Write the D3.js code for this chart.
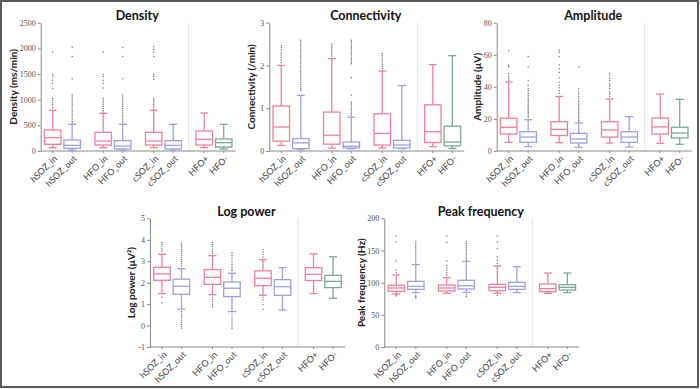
<!DOCTYPE html>
<html>
<head>
<meta charset="utf-8">
<script src="https://cdn.jsdelivr.net/npm/d3@7"></script>
<style>
  body { margin: 0; background: #fff; }
  svg { display: block; }
  .tick text { font-family: "Liberation Serif", serif; font-size: 8px; fill: #555; }
  .axis path, .axis line { stroke: #8a8a8a; }
  .cat { font-family: Lato, "Open Sans", sans-serif; font-size: 9px; fill: #444; }
  .title { font-family: Lato, "Open Sans", sans-serif; font-size: 12.5px; font-weight: bold; fill: #111; }
  .ylab { font-family: Lato, "Open Sans", sans-serif; font-size: 10px; font-weight: bold; fill: #222; }
</style>
</head>
<body>
<div id="chart-area"></div>
<script>
// categories
const categories = ["hSOZ_in", "hSOZ_out", "HFO_in", "HFO_out", "cSOZ_in", "cSOZ_out", "HFO+", "HFO-"];
const catGroup = ["hSOZ", "hSOZ", "HFO", "HFO", "cSOZ", "cSOZ", "class", "class"];
const catSub = ["a", "b", "a", "b", "a", "b", "a", "b"];
const catColorKey = ["in", "out", "in", "out", "in", "out", "in", "neg"];
const groups = ["hSOZ", "HFO", "cSOZ", "class"];

// box stats: [low whisker, q1, median, q3, high whisker]
const densityBox = [[65, 130, 260, 409, 792], [20, 52, 110, 214, 519], [65, 117, 195, 364, 734], [20, 39, 97, 201, 519],
  [65, 117, 195, 364, 792], [20, 39, 110, 201, 519], [65, 117, 227, 390, 740], [39, 78, 162, 234, 519]];
const densityOut = [
  [1930, 1490, 1450, 1380, 1320, 1220, 1030, 990, 940, 900, 850],
  [2020, 1840, 1410, 1090, 1050, 1010, 970, 935, 895, 860, 815, 775, 735, 695, 655, 615, 575, 540],
  [1930, 1490, 1450, 1380, 1320, 1230, 1030, 990, 950, 910, 870, 830, 790, 760],
  [2020, 1840, 1410, 1090, 1050, 1010, 975, 940, 900, 865, 825, 785, 745, 705, 665, 625, 585, 545],
  [2030, 1980, 1930, 1840, 1490, 1450, 1400, 1020, 980, 940, 900, 860, 820],
  [], [], []];

const connBox = [[0.13, 0.23, 0.56, 1.05, 2.0], [0.04, 0.055, 0.19, 0.29, 1.30], [0.07, 0.16, 0.37, 0.91, 2.16], [0.055, 0.07, 0.11, 0.21, 0.79],
  [0.07, 0.14, 0.41, 0.87, 1.87], [0.055, 0.07, 0.14, 0.25, 1.53], [0.1, 0.2, 0.45, 1.08, 2.02], [0.06, 0.12, 0.21, 0.58, 2.23]];
const connOut = [
  [2.47, 2.42, 2.36, 2.3, 2.25, 2.19, 2.13, 2.07],
  [2.59, 2.55, 2.5, 2.46, 2.41, 2.36, 2.32, 2.27, 2.22, 2.18, 2.13, 2.08, 2.04, 1.99, 1.94, 1.89, 1.85, 1.8, 1.75, 1.7, 1.66, 1.61, 1.56, 1.51, 1.46, 1.42],
  [2.5, 2.45, 2.41, 2.36, 2.31, 2.27, 2.22],
  [2.59, 2.55, 2.5, 2.45, 2.41, 2.36, 2.31, 2.27, 2.22, 2.17, 2.13, 2.08, 2.04, 1.71, 1.31, 1.14, 1.1, 1.05, 1.0, 0.96, 0.91, 0.87, 0.83],
  [2.28, 2.23, 2.18, 2.13, 2.08, 2.03, 1.98, 1.93],
  [], [], []];

const ampBox = [[5.4, 10.6, 14.8, 20.4, 43], [2.7, 5.4, 8.7, 12, 19.5], [5.2, 9.6, 13.5, 18.3, 34], [2.3, 5, 7.5, 11, 17.5],
  [5, 8.7, 13.1, 18.3, 32.4], [2.5, 5.4, 8.7, 12, 21.4], [4.8, 10.6, 15, 20.6, 35.5], [4.2, 8.1, 11.2, 14.8, 32.2]];
const ampOut = [
  [62.5, 53.5, 52.5, 48, 46.5, 45, 44],
  [59, 52.4, 44, 41, 39, 37.5, 36, 34.5, 33, 32, 31, 30, 29, 28, 27, 26, 25, 24, 23, 22, 21],
  [63, 61.5, 59, 53.6, 51.5, 49, 45.7, 43, 41, 39.5, 37.5, 36],
  [52.4, 38.7, 37, 35.5, 34, 32.5, 31, 30, 29, 28, 27, 26, 25, 24, 23, 22, 21, 20, 19, 18.3],
  [48.5, 47, 45.5, 44, 42, 40.5, 39, 37, 35.5, 34],
  [], [], []];

const logBox = [[1.49, 2.11, 2.41, 2.72, 3.32], [0.76, 1.46, 1.83, 2.16, 2.65], [1.44, 1.92, 2.25, 2.61, 3.26], [0.65, 1.35, 1.74, 2.03, 2.44],
  [1.41, 1.86, 2.2, 2.55, 3.07], [0.73, 1.41, 1.81, 2.14, 2.7], [1.49, 2.1, 2.39, 2.7, 3.34], [1.27, 1.77, 2.06, 2.34, 3.21]];
const logOut = [
  [3.88, 3.79, 3.68, 3.57, 3.46, 1.32, 1.05],
  [3.85, 3.75, 3.66, 3.56, 3.46, 3.37, 3.27, 3.18, 3.08, 2.99, 2.89, 2.8, 0.65, 0.55, 0.45, 0.35, 0.25, 0.15, 0.05, -0.05, -0.13],
  [3.88, 3.78, 3.68, 3.57, 3.47, 3.37, 1.32, 1.21, 1.1, 0.99, 0.88],
  [3.38, 3.27, 3.16, 3.05, 2.94, 2.83, 2.72, 2.62, 2.55, 0.54, 0.42, 0.3, 0.19, 0.07, -0.03, -0.13],
  [3.53, 3.42, 3.31, 3.2, 1.32, 1.2, 0.98, 0.76],
  [], [], []];

const peakBox = [[82.4, 86.5, 91.7, 96, 112], [84.5, 89.6, 94.3, 102, 128], [83.4, 87, 91.7, 96.4, 107.8], [85, 90.2, 95.3, 103.6, 133],
  [83.4, 87.6, 92.7, 97.4, 126], [84.5, 89.6, 94.3, 100.5, 124.9], [83.4, 86, 90.7, 97.9, 115], [84.5, 88.6, 92.7, 96.9, 115]];
const peakOut = [
  [172.5, 163, 133.7, 119.7, 115.5, 80.8, 79.3],
  [164, 161, 158, 155, 152, 149, 146, 143, 140, 137, 134, 131, 80.8, 78.2, 76.7],
  [172.5, 162.7, 133.7, 127, 123, 119.7, 115.5, 112],
  [164, 161, 158, 155, 152, 149, 146, 143, 140, 137, 135, 81.3, 78.2],
  [172.5, 163, 153, 140, 135, 130, 80.3],
  [], [], []];

// tick labels
const densityTicks = [0, 500, 1000, 1500, 2000, 2500];
const connTicks = [0, 1, 2, 3];
const ampTicks = [0, 20, 40, 60, 80];
const logTicks = [-1, 0, 1, 2, 3, 4, 5];
const peakTicks = [0, 50, 100, 150, 200];

const colors = { in: "#f2809a", out: "#a0a0e2", neg: "#78ab93" };

/* layout */
const W = 700, H = 389;
const plotW = 195;
const boxW = 16.5;
const capW = 8;

const panels = [
  { title: "Density", label: "Density (ms/min)", box: densityBox, out: densityOut, ticks: densityTicks, x0: 40.7, top: 22.7, bottom: 151, labelDx: -28 },
  { title: "Connectivity", label: "Connectivity (/min)", box: connBox, out: connOut, ticks: connTicks, x0: 269.3, top: 22.7, bottom: 151, labelDx: -18.5 },
  { title: "Amplitude", label: "Amplitude (\u00b5V)", box: ampBox, out: ampOut, ticks: ampTicks, x0: 496.7, top: 22.7, bottom: 151, labelDx: -20 },
  { title: "Log power", label: "Log power (\u00b5V\u00b2)", box: logBox, out: logOut, ticks: logTicks, x0: 150, top: 218.3, bottom: 347, labelDx: -19.5 },
  { title: "Peak frequency", label: "Peak frequency (Hz)", box: peakBox, out: peakOut, ticks: peakTicks, x0: 384.3, top: 218.3, bottom: 347, labelDx: -23.5 }
];

const svg = d3.select("#chart-area")
    .append("svg")
    .attr("width", W)
    .attr("height", H);

// frame
svg.append("rect")
    .attr("x", 1).attr("y", 1)
    .attr("width", W - 3).attr("height", H - 3)
    .attr("fill", "none")
    .attr("stroke", "#5a5a5a")
    .attr("stroke-width", 2);

const xGroup = d3.scalePoint().domain(groups).range([0, plotW]).padding(0.43);
const xSub = d3.scalePoint().domain(["a", "b"]).range([-9.75, 9.75]);
const cx = i => xGroup(catGroup[i]) + xSub(catSub[i]);

panels.forEach(p => {
    const g = svg.append("g").attr("transform", "translate(" + p.x0 + ",0)");
    const ticks = p.ticks;
    const y = d3.scaleLinear()
        .domain([ticks[0], ticks[ticks.length - 1]])
        .range([p.bottom, p.top]);

    // separator before the HFO+/HFO- pair
    const sepX = (xGroup("cSOZ") + xGroup("class")) / 2;
    g.append("line")
        .attr("x1", sepX).attr("x2", sepX)
        .attr("y1", p.top).attr("y2", p.bottom)
        .attr("stroke", "#e2e2e2")
        .attr("stroke-width", 1);

    // y axis
    g.append("g")
        .attr("class", "axis")
        .call(d3.axisLeft(y).tickValues(ticks).tickFormat(d => String(d))
            .tickSize(3).tickSizeOuter(0).tickPadding(2));

    // x axis line + small ticks
    g.append("line")
        .attr("x1", 0).attr("x2", plotW)
        .attr("y1", p.bottom).attr("y2", p.bottom)
        .attr("stroke", "#8a8a8a");
    g.selectAll(".xt")
        .data(categories)
        .enter().append("line")
        .attr("x1", (d, i) => cx(i)).attr("x2", (d, i) => cx(i))
        .attr("y1", p.bottom).attr("y2", p.bottom + 2)
        .attr("stroke", "#8a8a8a");

    // category labels
    g.selectAll(".cat")
        .data(categories)
        .enter().append("text")
        .attr("class", "cat")
        .attr("text-anchor", "end")
        .attr("transform", (d, i) => "translate(" + (cx(i) + 3) + "," + (p.bottom + 6) + ") rotate(-45)")
        .attr("dy", "0.35em")
        .text(d => d);

    // title
    g.append("text")
        .attr("class", "title")
        .attr("x", 96.5)
        .attr("y", p.top - 2.5)
        .attr("text-anchor", "middle")
        .text(p.title);

    // y label
    g.append("text")
        .attr("class", "ylab")
        .attr("transform", "translate(" + p.labelDx + "," + ((p.top + p.bottom) / 2) + ") rotate(-90)")
        .attr("text-anchor", "middle")
        .attr("dominant-baseline", "central")
        .text(p.label);

    // boxes
    const boxes = g.selectAll(".box")
        .data(p.box)
        .enter().append("g")
        .attr("class", "box")
        .attr("transform", (d, i) => "translate(" + cx(i) + ",0)")
        .attr("stroke", (d, i) => colors[catColorKey[i]])
        .attr("stroke-width", 1.3)
        .attr("fill", "none");

    boxes.append("line")
        .attr("x1", 0).attr("x2", 0)
        .attr("y1", d => y(d[3])).attr("y2", d => y(d[4]));
    boxes.append("line")
        .attr("x1", 0).attr("x2", 0)
        .attr("y1", d => y(d[1])).attr("y2", d => y(d[0]));
    boxes.append("line")
        .attr("x1", -capW / 2).attr("x2", capW / 2)
        .attr("y1", d => y(d[4])).attr("y2", d => y(d[4]));
    boxes.append("line")
        .attr("x1", -capW / 2).attr("x2", capW / 2)
        .attr("y1", d => y(d[0])).attr("y2", d => y(d[0]));
    boxes.append("rect")
        .attr("x", -boxW / 2)
        .attr("width", boxW)
        .attr("y", d => y(d[3]))
        .attr("height", d => y(d[1]) - y(d[3]))
        .attr("fill", "#fff");
    boxes.append("line")
        .attr("x1", -boxW / 2).attr("x2", boxW / 2)
        .attr("y1", d => y(d[2])).attr("y2", d => y(d[2]));

    // outliers
    p.out.forEach((vals, i) => {
        g.selectAll(null)
            .data(vals)
            .enter().append("circle")
            .attr("cx", cx(i))
            .attr("cy", d => y(d))
            .attr("r", 0.75)
            .attr("fill", "#7a7a7a");
    });
});
</script>
</body>
</html>
